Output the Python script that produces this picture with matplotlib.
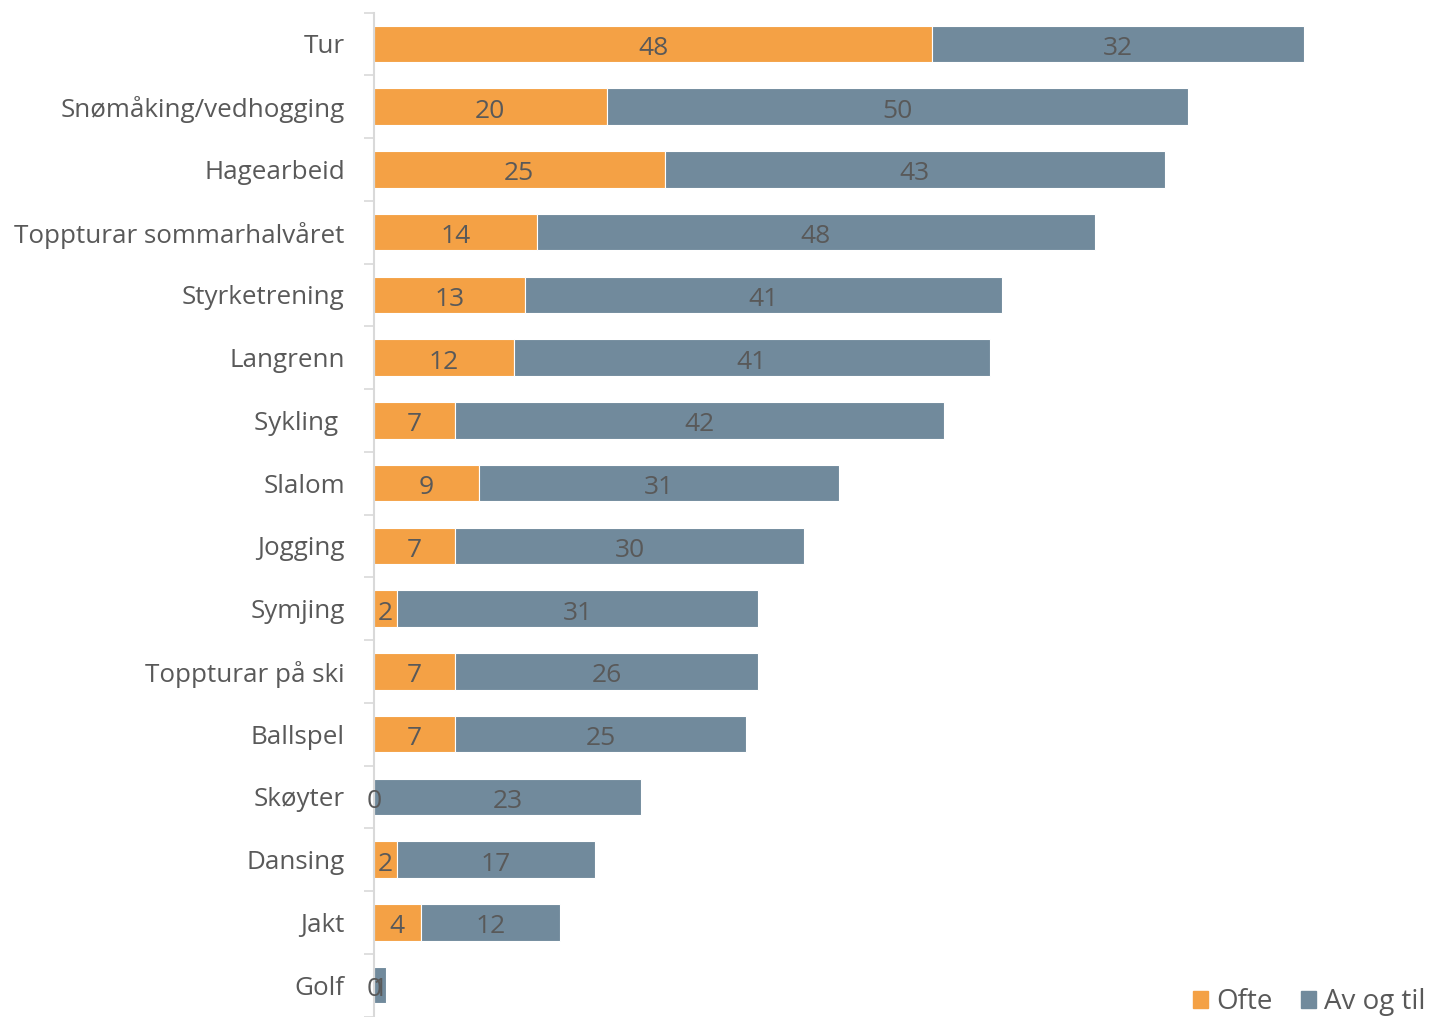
import matplotlib.pyplot as plt
from matplotlib.patches import Patch
import numpy as np

categories = ["Tur", "Snømåking/vedhogging", "Hagearbeid", "Toppturar sommarhalvåret",
              "Styrketrening", "Langrenn", "Sykling ", "Slalom", "Jogging", "Symjing",
              "Toppturar på ski", "Ballspel", "Skøyter", "Dansing", "Jakt", "Golf"]
ofte = [48, 20, 25, 14, 13, 12, 7, 9, 7, 2, 7, 7, 0, 2, 4, 0]
av_og_til = [32, 50, 43, 48, 41, 41, 42, 31, 30, 31, 26, 25, 23, 17, 12, 1]

orange = "#F4A145"
blue = "#718A9C"
text_col = "#595959"

plt.rcParams["font.family"] = ["Open Sans", "DejaVu Sans"]

fig = plt.figure(figsize=(14.32, 10.17), dpi=100)
ax = fig.add_axes([374 / 1432, 0.5 / 1017, 1058 / 1432, 1004 / 1017])

y = np.arange(len(categories))
ofte = np.array(ofte)
av_og_til = np.array(av_og_til)

ax.barh(y, ofte, height=0.58, color=orange, edgecolor="white", linewidth=0.8)
ax.barh(y, av_og_til, left=ofte, height=0.58, color=blue, edgecolor="white", linewidth=0.8)

# value labels sit a little below the bar centre
for i in range(len(categories)):
    ax.text(ofte[i] / 2, y[i] + 0.07, str(ofte[i]), ha="center", va="center",
            fontsize=19, color=text_col)
    ax.text(ofte[i] + av_og_til[i] / 2, y[i] + 0.07, str(av_og_til[i]), ha="center",
            va="center", fontsize=19, color=text_col)

ax.set_xlim(0, 91)
ax.set_ylim(len(categories) - 0.5, -0.5)
ax.set_yticks(y)
ax.set_yticklabels(categories, fontsize=18.7, color=text_col)
ax.set_yticks(np.arange(-0.5, len(categories) + 0.5, 1), minor=True)
ax.tick_params(axis="y", which="major", length=0, pad=21)
ax.tick_params(axis="y", which="minor", length=7, width=1.2, color="#d9d9d9")
ax.set_xticks([])
for side in ["top", "right", "bottom"]:
    ax.spines[side].set_visible(False)
ax.spines["left"].set_color("#d9d9d9")
ax.spines["left"].set_linewidth(1.5)

handles = [Patch(color=orange, label="Ofte"), Patch(color=blue, label="Av og til")]
fig.legend(handles=handles, loc="lower right", bbox_to_anchor=(1.013, -0.024), ncol=2,
           frameon=False, fontsize=20, labelcolor=text_col, handlelength=0.55,
           handleheight=0.55, handletextpad=0.3, columnspacing=1.0)

fig.savefig("out.png", dpi=100)
